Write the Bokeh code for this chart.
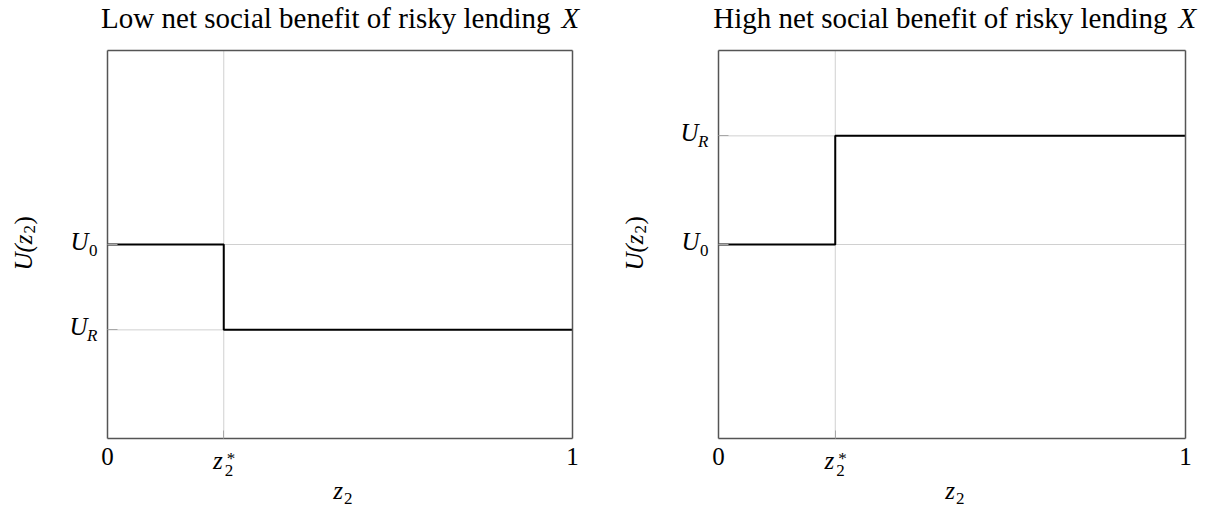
import math
from bokeh.plotting import figure
from bokeh.layouts import row
from bokeh.models import Range1d, FixedTicker, LinearAxis, Label
from bokeh.embed import file_html
from bokeh.resources import INLINE

# ---- data ----
panel_titles = ["Low net social benefit of risky lending", "High net social benefit of risky lending"]
title_symbol = "X"
z_points = [0.0, 0.25, 1.0]          # 0, z2*, 1
z_star = 0.25
U0 = 0.5
UR_low = 0.28
UR_high = 0.78
low_values = [U0, UR_low, UR_low]
high_values = [U0, UR_high, UR_high]
x_tick_text = {0.0: "0", 0.25: "", 1.0: "1"}
box_lo, box_hi = 0.0, 1.0

SERIF = "Liberation Serif"
FS = "25px"
SUBFS = "17px"
TFS = "29px"
EDGE = "#555555"
GRID = "#d0d0d0"
TICK = "#a8a8a8"

FIG_H = 508
BOX_TOP, BOX_BOTTOM = 50, 70          # pixel margins above / below the drawn box
BOX_H = FIG_H - BOX_TOP - BOX_BOTTOM


def lab(p, x, y, text, xo, yo, align, size=FS, italic=True, baseline="alphabetic", angle=0.0):
    p.add_layout(Label(x=x, y=y, x_offset=xo, y_offset=yo, text=text,
                       text_align=align, text_baseline=baseline, angle=angle,
                       text_font=SERIF, text_font_size=size,
                       text_font_style="italic" if italic else "normal",
                       text_color="black"))


def edge_axis(side, loc, ticks=(), labels=None, tick_in=0):
    ax = LinearAxis(fixed_location=loc, bounds=(box_lo, box_hi),
                    ticker=FixedTicker(ticks=list(ticks)))
    ax.axis_line_color = EDGE
    ax.axis_line_width = 1.5
    ax.major_tick_in = tick_in
    ax.major_tick_out = 0
    ax.major_tick_line_color = TICK
    ax.minor_tick_line_color = None
    ax.major_label_overrides = labels if labels is not None else {t: "" for t in ticks}
    ax.major_label_standoff = 9
    ax.major_label_text_font = SERIF
    ax.major_label_text_font_size = FS
    ax.major_label_text_color = "black"
    return ax


def make_panel(title_main, values, ur, width, box_left, box_right, t_off):
    fw = width - box_left - box_right
    p = figure(width=width, height=FIG_H,
               x_range=Range1d(box_lo - box_left / fw, box_hi + box_right / fw),
               y_range=Range1d(box_lo - BOX_BOTTOM / BOX_H, box_hi + BOX_TOP / BOX_H),
               x_axis_location=None, y_axis_location=None, title_location=None,
               output_backend="svg", toolbar_location=None,
               min_border=0, min_border_left=0, min_border_right=0,
               min_border_top=0, min_border_bottom=0)
    p.outline_line_color = None
    p.xgrid.visible = False
    p.ygrid.visible = False

    # box edges and ticks (axes fixed at the edges of the unit box)
    p.add_layout(edge_axis("below", box_lo, z_points, x_tick_text, tick_in=8), "below")
    p.add_layout(edge_axis("left", box_lo, sorted([U0, ur]), None, tick_in=10), "left")
    p.add_layout(edge_axis("above", box_hi), "above")
    p.add_layout(edge_axis("right", box_hi), "right")

    # grid lines at the tick positions
    p.segment(x0=[z_star], y0=[box_lo], x1=[z_star], y1=[box_hi], line_color=GRID, line_width=1)
    p.segment(x0=[box_lo, box_lo], y0=[U0, ur], x1=[box_hi, box_hi], y1=[U0, ur],
              line_color=GRID, line_width=1)

    # the step function
    p.step(z_points, values, mode="after", line_color="black", line_width=2)

    # y tick labels U_0, U_R
    lab(p, box_lo, U0, "U", -19, 3, "right", baseline="middle")
    lab(p, box_lo, U0, "0", -10, -6, "right", size=SUBFS, italic=False, baseline="middle")
    lab(p, box_lo, ur, "U", -20, 3, "right", baseline="middle")
    lab(p, box_lo, ur, "R", -10, -6, "right", size=SUBFS, baseline="middle")

    # x tick label z_2^*
    lab(p, z_star, box_lo, "z", -1, -22, "right")
    lab(p, z_star, box_lo, "2", 1, -32, "left", size=SUBFS, italic=False)
    lab(p, z_star, box_lo, "*", 3, -20, "left", size=SUBFS, italic=False)

    # x axis label z_2
    lab(p, 0.5, box_lo, "z", 3, -52, "right")
    lab(p, 0.5, box_lo, "2", 4, -60, "left", size=SUBFS, italic=False)

    # y axis label U(z_2), rotated
    rot = math.pi / 2
    lab(p, box_lo, 0.5, "U(z", -84, 10, "right", angle=rot)
    lab(p, box_lo, 0.5, "2", -78, 11, "left", size=SUBFS, italic=False, angle=rot)
    lab(p, box_lo, 0.5, ")", -84, 20, "left", italic=False, angle=rot)

    # title
    lab(p, box_hi, box_hi, title_main, t_off, 33, "right", size=TFS, italic=False)
    lab(p, box_hi, box_hi, title_symbol, t_off + 11, 33, "left", size=TFS)
    return p


p1 = make_panel(panel_titles[0], low_values, UR_low, 608, 107, 36, -22)
p2 = make_panel(panel_titles[1], high_values, UR_high, 600, 110, 23, -18)

layout = row(p1, p2)
open("out.html", "w").write(file_html(layout, INLINE))
